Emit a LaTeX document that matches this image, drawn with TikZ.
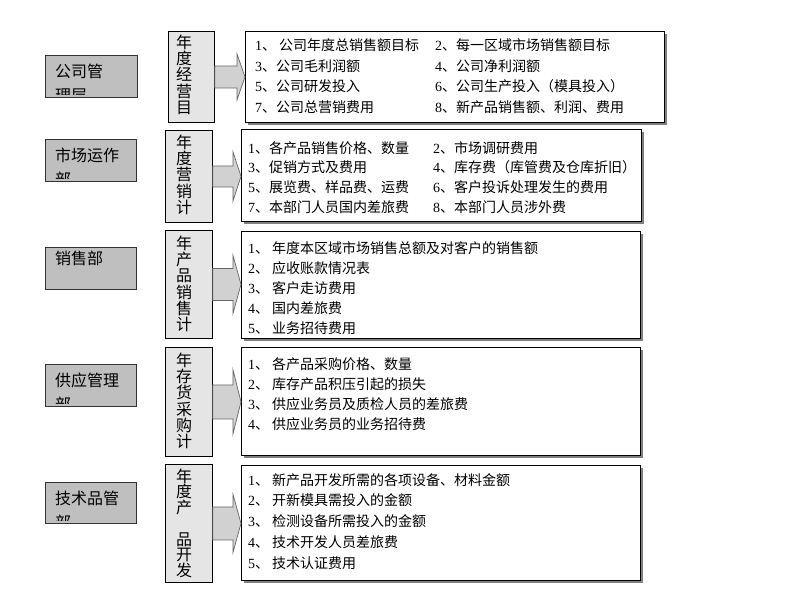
\documentclass[tikz,border=0pt]{standalone}
\usepackage{fontspec}
\setmainfont{Liberation Serif}
\newfontfamily\cjk{Noto Sans CJK SC}
\usetikzlibrary{calc,shadows}

\newcommand\idx[1]{{\rmfamily #1}、}
\newcommand\firstline{\rule{0pt}{15pt}}
% #1 from, #2 to, #3 shaft half, #4 head half, #5 head length
\newcommand\blockarrow[5]{%
  \path (#1.east) coordinate (#1-a) (#2.west |- #1.east) coordinate (#1-b);
  \draw[arrowshape] ([yshift=#3pt]#1-a) -- ([xshift=-#5pt,yshift=#3pt]#1-b)
    -- ([xshift=-#5pt,yshift=#4pt]#1-b) -- (#1-b)
    -- ([xshift=-#5pt,yshift=-#4pt]#1-b) -- ([xshift=-#5pt,yshift=-#3pt]#1-b)
    -- ([yshift=-#3pt]#1-a) -- cycle;
}

\tikzset{
  deptbox/.style={draw=black!80, fill=black!25, line width=0.8pt, inner sep=0pt, anchor=north west},
  depttext/.style={font=\cjk\fontsize{16}{24}\selectfont, align=left, anchor=north west, inner sep=0pt},
  planbox/.style={draw=black, fill=black!10, line width=0.8pt, inner sep=0pt, anchor=north west},
  plantext/.style={font=\cjk\fontsize{16}{16.3}\selectfont, align=center, anchor=north, inner sep=0pt},
  listbox/.style={draw=black, fill=white, line width=0.9pt, inner sep=0pt, anchor=north west,
    drop shadow={shadow xshift=3pt, shadow yshift=-3pt, fill=black!50, opacity=1}},
  itemtext/.style={font=\cjk\fontsize{14}{16}\selectfont, anchor=base west, inner sep=0pt},
  arrowshape/.style={draw=black!60, fill=black!18, line width=0.7pt},
}

\begin{document}
\begin{tikzpicture}[x=1pt, y=-1pt]
  \useasboundingbox (0,0) rectangle (785,603);

  % ------------------------------------------------------------------------
  % 公司管理层
  \node[deptbox, minimum width=92pt, minimum height=42pt] at (45,55) (dept1) {};
  \begin{scope}
    \clip ([shift={(3pt,3pt)}]dept1.south west) rectangle ([shift={(-3pt,-3pt)}]dept1.north east);
    \node[depttext] at ([shift={(10pt,-7pt)}]dept1.north west) (dept1text) {\firstline 公司管\\理层};
  \end{scope}

  \node[planbox, minimum width=46pt, minimum height=91pt] at (168,31) (plan1) {};
  \node[plantext] at (184,33) (plan1text) {\firstline 年\\度\\经\\营\\目};

  \node[listbox, minimum width=419pt, minimum height=91pt] at (245,31) (list1) {};
  \foreach \txt [count=\i] in {\idx{1}\hspace{3pt}公司年度总销售额目标, \idx{3}公司毛利润额,
      \idx{5}公司研发投入, \idx{7}公司总营销费用}
    \node[itemtext] at (255,{50.5+(\i-1)*20.6}) (aim\i) {\txt};
  \foreach \txt [count=\i] in {\idx{2}每一区域市场销售额目标, \idx{4}公司净利润额,
      \idx{6}公司生产投入（模具投入）, \idx{8}新产品销售额、利润、费用}
    \node[itemtext] at (435,{50.5+(\i-1)*20.6}) (aimb\i) {\txt};

  \blockarrow{plan1}{list1}{11}{23}{8}

  % ------------------------------------------------------------------------
  % 市场运作部
  \node[deptbox, minimum width=91pt, minimum height=42pt] at (45,139) (dept2) {};
  \begin{scope}
    \clip ([shift={(3pt,3pt)}]dept2.south west) rectangle ([shift={(-3pt,-3pt)}]dept2.north east);
    \node[depttext] at ([shift={(10pt,-7pt)}]dept2.north west) (dept2text) {\firstline 市场运作\\部};
  \end{scope}

  \node[planbox, minimum width=47pt, minimum height=92pt] at (165,130) (plan2) {};
  \node[plantext] at (184,133) (plan2text) {\firstline 年\\度\\营\\销\\计};

  \node[listbox, minimum width=400pt, minimum height=92pt] at (241,129) (list2) {};
  \foreach \txt [count=\i] in {\idx{1}各产品销售价格、数量, \idx{3}促销方式及费用,
      \idx{5}展览费、样品费、运费, \idx{7}本部门人员国内差旅费}
    \node[itemtext] at (248,{153+(\i-1)*19.8}) (mkt\i) {\txt};
  \foreach \txt [count=\i] in {\idx{2}市场调研费用, \idx{4}库存费（库管费及仓库折旧）,
      \idx{6}客户投诉处理发生的费用, \idx{8}本部门人员涉外费}
    \node[itemtext] at (433,{153+(\i-1)*19.8}) (mktb\i) {\txt};

  \blockarrow{plan2}{list2}{10.5}{24.5}{8}

  % ------------------------------------------------------------------------
  % 销售部
  \node[deptbox, minimum width=91pt, minimum height=42pt] at (45,247) (dept3) {};
  \node[depttext, anchor=base west] at ([shift={(10pt,-17pt)}]dept3.north west) (dept3text) {销售部};

  \node[planbox, minimum width=47pt, minimum height=108pt] at (165,230) (plan3) {};
  \node[plantext] at (184,234) (plan3text) {\firstline 年\\产\\品\\销\\售\\计};

  \node[listbox, minimum width=399pt, minimum height=107pt] at (241,231) (list3) {};
  \foreach \txt [count=\i] in {年度本区域市场销售总额及对客户的销售额, 应收账款情况表,
      客户走访费用, 国内差旅费, 业务招待费用}
    \node[itemtext] at (248,{253+(\i-1)*20}) (sale\i) {\idx{\i}\hspace{3pt}\txt};

  \blockarrow{plan3}{list3}{16}{29}{8}

  % ------------------------------------------------------------------------
  % 供应管理部
  \node[deptbox, minimum width=91pt, minimum height=42pt] at (45,364) (dept4) {};
  \begin{scope}
    \clip ([shift={(3pt,3pt)}]dept4.south west) rectangle ([shift={(-3pt,-3pt)}]dept4.north east);
    \node[depttext] at ([shift={(10pt,-7pt)}]dept4.north west) (dept4text) {\firstline 供应管理\\部};
  \end{scope}

  \node[planbox, minimum width=47pt, minimum height=109pt] at (165,347) (plan4) {};
  \node[plantext] at (184,351) (plan4text) {\firstline 年\\存\\货\\采\\购\\计};

  \node[listbox, minimum width=399pt, minimum height=108pt] at (241,347) (list4) {};
  \foreach \txt [count=\i] in {各产品采购价格、数量, 库存产品积压引起的损失,
      供应业务员及质检人员的差旅费, 供应业务员的业务招待费}
    \node[itemtext] at (248,{369+(\i-1)*20.3}) (buy\i) {\idx{\i}\hspace{3pt}\txt};

  \blockarrow{plan4}{list4}{17}{32}{8}

  % ------------------------------------------------------------------------
  % 技术品管部
  \node[deptbox, minimum width=91pt, minimum height=41pt] at (45,482) (dept5) {};
  \begin{scope}
    \clip ([shift={(3pt,3pt)}]dept5.south west) rectangle ([shift={(-3pt,-3pt)}]dept5.north east);
    \node[depttext] at ([shift={(10pt,-7pt)}]dept5.north west) (dept5text) {\firstline 技术品管\\部};
  \end{scope}

  \node[planbox, minimum width=47pt, minimum height=118pt] at (165,464) (plan5) {};
  \node[plantext, font=\cjk\fontsize{16}{15.7}\selectfont] at (184,467) (plan5text)
    {\firstline 年\\度\\产\\[15.7pt]品\\开\\发};

  \node[listbox, minimum width=399pt, minimum height=115pt] at (241,465) (list5) {};
  \foreach \txt [count=\i] in {新产品开发所需的各项设备、材料金额, 开新模具需投入的金额,
      检测设备所需投入的金额, 技术开发人员差旅费, 技术认证费用}
    \node[itemtext] at (248,{485+(\i-1)*20.8}) (tech\i) {\idx{\i}\hspace{3pt}\txt};

  \blockarrow{plan5}{list5}{16.5}{29}{8}
\end{tikzpicture}
\end{document}
